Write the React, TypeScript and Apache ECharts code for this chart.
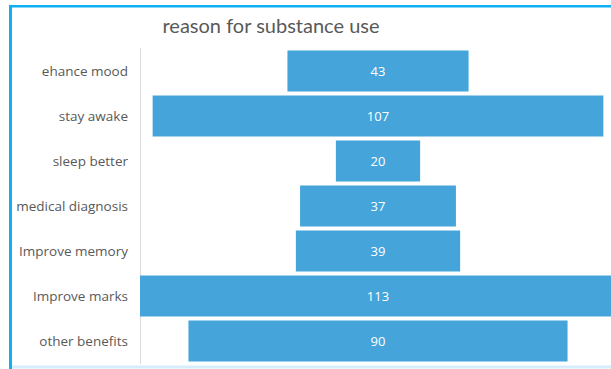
import React, { useEffect, useRef } from "react";
import * as echarts from "echarts";

const categories = [
  "ehance mood",
  "stay awake",
  "sleep better",
  "medical diagnosis",
  "Improve memory",
  "Improve marks",
  "other benefits",
];
const values = [43, 107, 20, 37, 39, 113, 90];
const titleText = "reason for substance use";

export default function App() {
  const ref = useRef<HTMLDivElement>(null);
  useEffect(() => {
    if (!ref.current) return;
    const chart = echarts.init(ref.current, undefined, { renderer: "svg" });
    const maxV = Math.max(...values);
    const offsets = values.map((v) => (maxV - v) / 2);
    chart.setOption({
      animation: false,
      graphic: [
        { type: "rect", shape: { x: 9, y: 5, width: 3, height: 364 }, style: { fill: "#0fb0f0" } },
        { type: "rect", shape: { x: 9, y: 5, width: 620, height: 2.5 }, style: { fill: "#0fb0f0" } },
        { type: "rect", shape: { x: 12, y: 365.5, width: 620, height: 3 }, style: { fill: "#d6eefb" } },
        {
          type: "text",
          x: 271,
          y: 25,
          style: {
            text: titleText,
            fill: "#595959",
            font: '20px Lato, sans-serif',
            textAlign: "center",
            textVerticalAlign: "middle",
          },
        },
      ],
      grid: { left: 140, right: 14, top: 48.5, bottom: 5.5, containLabel: false },
      xAxis: {
        type: "value",
        min: 0,
        max: maxV,
        show: false,
      },
      yAxis: {
        type: "category",
        data: categories,
        inverse: true,
        axisLine: { show: true, lineStyle: { color: "#d9d9d9", width: 1 } },
        axisTick: { show: false },
        axisLabel: {
          color: "#595959",
          fontSize: 13.5,
          fontFamily: '"Open Sans", sans-serif',
          margin: 12,
        },
        splitLine: { show: false },
      },
      series: [
        {
          type: "bar",
          stack: "f",
          data: offsets,
          itemStyle: { color: "transparent" },
          barCategoryGap: "9%",
          silent: true,
        },
        {
          type: "bar",
          stack: "f",
          data: values,
          itemStyle: { color: "#45a5db" },
          barCategoryGap: "9%",
          label: {
            show: true,
            position: "inside",
            color: "#ffffff",
            fontSize: 13,
            fontFamily: '"Open Sans", sans-serif',
          },
        },
      ],
    });
    return () => chart.dispose();
  }, []);
  return (
    <div style={{ position: "fixed", left: 0, top: 0, width: 611, height: 369, overflow: "hidden", background: "#fff" }}>
      <div ref={ref} style={{ width: 630, height: 369 }} />
    </div>
  );
}
